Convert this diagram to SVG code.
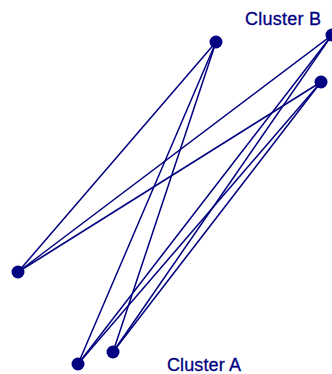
<svg xmlns="http://www.w3.org/2000/svg" width="332" height="374" viewBox="0 0 332 374">
<style>
.edge{stroke:#000080;stroke-width:1.5;fill:none}
.node{fill:#000080}
.lbl{font-family:"Liberation Sans",Arial,sans-serif;font-size:18px;fill:#000080;stroke:#000080;stroke-width:0.3}
</style>
<rect width="332" height="374" fill="#fff"/>
<g id="connectors">
<line class="edge" x1="216" y1="42" x2="18" y2="272"/>
<line class="edge" x1="216" y1="42" x2="78" y2="364"/>
<line class="edge" x1="216" y1="42" x2="113" y2="352"/>
<line class="edge" x1="332" y1="35" x2="18" y2="272"/>
<line class="edge" x1="332" y1="35" x2="78" y2="364"/>
<line class="edge" x1="332" y1="35" x2="113" y2="352"/>
<line class="edge" x1="321" y1="82" x2="18" y2="272"/>
<line class="edge" x1="321" y1="82" x2="78" y2="364"/>
<line class="edge" x1="321" y1="82" x2="113" y2="352"/>
</g>
<g id="n1"><circle class="node" cx="216" cy="42" r="6.5"/></g>
<g id="n2"><circle class="node" cx="332" cy="35" r="6.5"/></g>
<g id="n3"><circle class="node" cx="321" cy="82" r="6.5"/></g>
<g id="n4"><circle class="node" cx="18" cy="272" r="6.5"/></g>
<g id="n5"><circle class="node" cx="78" cy="364" r="6.5"/></g>
<g id="n6"><circle class="node" cx="113" cy="352" r="6.5"/></g>
<g id="clusterB"><text class="lbl" x="245" y="25" textLength="76">Cluster B</text></g>
<g id="clusterA"><text class="lbl" x="167" y="371" textLength="74">Cluster A</text></g>
</svg>
